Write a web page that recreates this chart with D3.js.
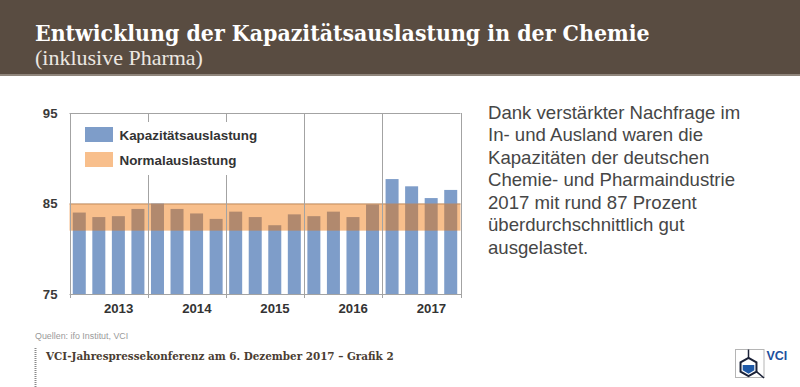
<!DOCTYPE html>
<html>
<head>
<meta charset="utf-8">
<script src="https://cdn.jsdelivr.net/npm/d3@7"></script>
<style>
  html, body { margin: 0; padding: 0; background: #fff; }
  svg { display: block; }
</style>
</head>
<body>
<svg id="chart" width="800" height="387"></svg>
<script>
// ---- data ----
const years = ["2013", "2014", "2015", "2016", "2017"];
const quarters = ["2013 Q1","2013 Q2","2013 Q3","2013 Q4","2014 Q1","2014 Q2","2014 Q3","2014 Q4",
                  "2015 Q1","2015 Q2","2015 Q3","2015 Q4","2016 Q1","2016 Q2","2016 Q3","2016 Q4",
                  "2017 Q1","2017 Q2","2017 Q3","2017 Q4"];
const utilization = [84.0, 83.5, 83.6, 84.4, 85.0, 84.4, 83.9, 83.3, 84.1, 83.5,
                     82.6, 83.8, 83.6, 84.1, 83.5, 84.9, 87.7, 86.9, 85.6, 86.5];
const normalRange = [82, 85];
const yTicks = [75, 85, 95];
const legendLabels = ["Kapazitätsauslastung", "Normalauslastung"];
const titleText = "Entwicklung der Kapazitätsauslastung in der Chemie";
const subtitleText = "(inklusive Pharma)";
const noteLines = ["Dank verstärkter Nachfrage im", "In- und Ausland waren die", "Kapazitäten der deutschen",
                   "Chemie- und Pharmaindustrie", "2017 mit rund 87 Prozent", "überdurchschnittlich gut", "ausgelastet."];
const sourceText = "Quellen: ifo Institut, VCI";
const footerText = "VCI-Jahrespressekonferenz am 6. Dezember 2017 – Grafik 2";

// ---- layout ----
const svg = d3.select("#chart");
const L = 69.5, R = 460.5, T = 113, B = 294;
const blue = "#7e9dc9", orange = "#f07000", bandOpacity = 0.45, grid = "#a3a3a3";

function fit(t, base, target) {
  const w = t.node().getComputedTextLength();
  t.attr("font-size", base * target / w);
}

// header
svg.append("rect").attr("x", 0).attr("y", 0).attr("width", 800).attr("height", 75).attr("fill", "#594c41");
svg.append("rect").attr("x", 0).attr("y", 74).attr("width", 800).attr("height", 2).attr("fill", "#8f857b");

const title = svg.append("text").attr("x", 35).attr("y", 41)
  .attr("font-family", "'DejaVu Serif Condensed', 'DejaVu Serif', serif").attr("font-weight", "bold")
  .attr("font-size", 24).attr("fill", "#ffffff").text(titleText);
fit(title, 24, 615);

const sub = svg.append("text").attr("x", 35).attr("y", 65)
  .attr("font-family", "'Liberation Serif', serif").attr("font-size", 20)
  .attr("fill", "#ece7e1").text(subtitleText);
fit(sub, 20, 168);

// scales
const x = d3.scaleBand().domain(quarters).range([L, R]).paddingInner(0.335).paddingOuter(0.1675);
const xYear = d3.scaleBand().domain(years).range([L, R]);
const y = d3.scaleLinear().domain([75, 95]).range([B, T]);

const plot = svg.append("g");

// gridlines at 85 and 95 (top border)
plot.selectAll("line.grid").data(yTicks.filter(v => v > 75)).join("line")
  .attr("x1", L).attr("x2", R).attr("y1", d => y(d) + 0.5).attr("y2", d => y(d) + 0.5)
  .attr("stroke", grid).attr("stroke-width", 1);

// bars
plot.selectAll("rect.bar").data(utilization).join("rect")
  .attr("class", "bar")
  .attr("x", (d, i) => x(quarters[i]))
  .attr("width", x.bandwidth())
  .attr("y", d => y(d))
  .attr("height", d => y(75) - y(d))
  .attr("fill", blue);

// normal band
plot.append("rect")
  .attr("x", L).attr("width", R - L)
  .attr("y", y(normalRange[1])).attr("height", y(normalRange[0]) - y(normalRange[1]))
  .attr("fill", orange).attr("fill-opacity", bandOpacity);

// year separators and right border
const bounds = years.map(yv => xYear(yv)).concat([R]);
plot.selectAll("line.sep").data(bounds).join("line")
  .attr("x1", d => Math.round(d) + 0.5).attr("x2", d => Math.round(d) + 0.5)
  .attr("y1", T).attr("y2", B + 4)
  .attr("stroke", grid).attr("stroke-width", 1);

// bottom axis line
plot.append("line").attr("x1", L).attr("x2", R + 1).attr("y1", B + 0.5).attr("y2", B + 0.5)
  .attr("stroke", grid).attr("stroke-width", 1);

// y axis labels
const yAxis = d3.axisLeft(y).tickValues(yTicks).tickSize(0).tickPadding(12);
const yg = svg.append("g").attr("transform", `translate(${L},0)`).call(yAxis);
yg.select(".domain").remove();
yg.selectAll("text").attr("font-family", "'Liberation Sans', Arial, sans-serif")
  .attr("font-size", 13.2).attr("font-weight", "bold").attr("fill", "#3a3a3a");

// x axis labels
const xAxis = d3.axisBottom(xYear).tickSize(0).tickPadding(10);
const xg = svg.append("g").attr("transform", `translate(10,${B})`).call(xAxis);
xg.select(".domain").remove();
xg.selectAll("text").attr("font-family", "'Liberation Sans', Arial, sans-serif")
  .attr("font-size", 13.2).attr("font-weight", "bold").attr("fill", "#333");

// legend
const lg = svg.append("g");
lg.append("rect").attr("x", 76).attr("y", 122).attr("width", 214).attr("height", 53).attr("fill", "#fff");
const legColors = [{c: blue, o: 1}, {c: orange, o: bandOpacity}];
legendLabels.forEach((lab, i) => {
  lg.append("rect").attr("x", 85).attr("y", 127 + i * 25).attr("width", 28).attr("height", 15)
    .attr("fill", legColors[i].c).attr("fill-opacity", legColors[i].o);
  lg.append("text").attr("x", 119.5).attr("y", 139.5 + i * 25)
    .attr("font-family", "'Liberation Sans', Arial, sans-serif").attr("font-size", 13.4)
    .attr("font-weight", "bold").attr("fill", "#333").text(lab);
});

// note text
const note = svg.append("text").attr("font-family", "'Liberation Sans', Arial, sans-serif")
  .attr("font-size", 18.6).attr("fill", "#464646");
noteLines.forEach((ln, i) => {
  note.append("tspan").attr("x", 488).attr("y", 118.5 + i * 22.5).text(ln);
});

// source
svg.append("text").attr("x", 35).attr("y", 338.5)
  .attr("font-family", "'Liberation Sans', Arial, sans-serif").attr("font-size", 8.9)
  .attr("fill", "#9a9a9a").text(sourceText);

// footer
svg.append("line").attr("x1", 35.5).attr("x2", 35.5).attr("y1", 348).attr("y2", 387)
  .attr("stroke", "#8a8a8a").attr("stroke-width", 2).attr("stroke-dasharray", "1,1");
const foot = svg.append("text").attr("x", 46).attr("y", 359.5)
  .attr("font-family", "'DejaVu Serif Condensed', 'DejaVu Serif', serif").attr("font-weight", "bold")
  .attr("font-size", 13).attr("fill", "#4a3d32").text(footerText);
fit(foot, 13, 348);

// logo
const logo = svg.append("g");
logo.append("rect").attr("x", 735.5).attr("y", 349.5).attr("width", 28.5).attr("height", 28)
  .attr("fill", "none").attr("stroke", "#b5b5b5").attr("stroke-width", 1);
const cx = 748.5, cy = 367, r = 9.2;
const hex = d3.range(6).map(k => {
  const a = -Math.PI / 2 + k * Math.PI / 3;
  return [cx + r * Math.cos(a), cy + r * Math.sin(a)];
});
logo.append("line").attr("x1", cx).attr("x2", cx).attr("y1", 349.5).attr("y2", cy - r)
  .attr("stroke", "#1b2238").attr("stroke-width", 1.5);
logo.append("line").attr("x1", hex[2][0]).attr("y1", hex[2][1]).attr("x2", 764).attr("y2", 378)
  .attr("stroke", "#1b2238").attr("stroke-width", 1.5);
logo.append("polygon").attr("points", hex.map(p => p.join(",")).join(" "))
  .attr("fill", "#ffffff").attr("stroke", "#1b2238").attr("stroke-width", 2);
const inner = d3.range(6).map(k => {
  const a = -Math.PI / 2 + k * Math.PI / 3;
  return [cx + (r - 2.5) * Math.cos(a), cy + (r - 2.5) * Math.sin(a)];
});
logo.append("polygon")
  .attr("points", [[inner[1][0], cy - 2], inner[1], inner[2], inner[3], inner[4], inner[5], [inner[5][0], cy - 2]]
    .map(p => p.join(",")).join(" "))
  .attr("fill", "#1f5aa8");
logo.append("text").attr("x", 766.5).attr("y", 359.5)
  .attr("font-family", "'Liberation Sans', Arial, sans-serif").attr("font-weight", "bold")
  .attr("font-size", 12.5).attr("fill", "#1d4f9e").text("VCI");
</script>
</body>
</html>
